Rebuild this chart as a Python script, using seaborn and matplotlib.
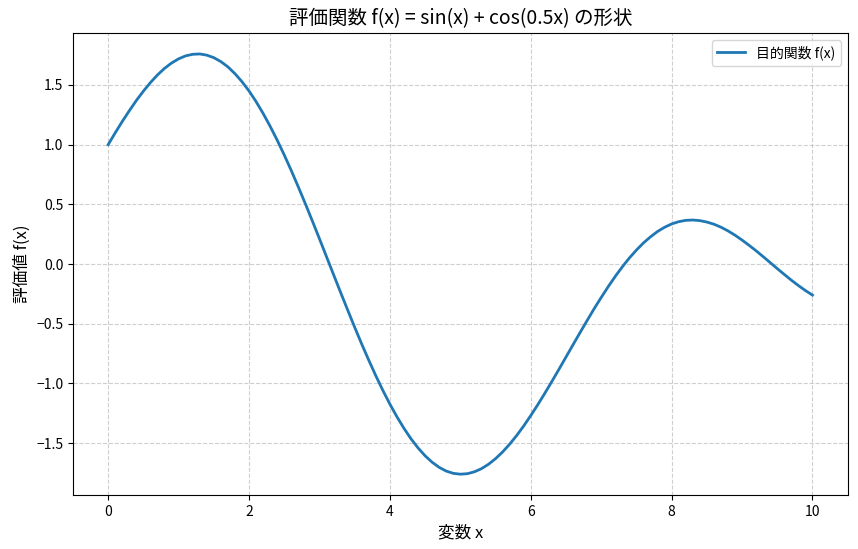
import numpy as np
import pandas as pd
import matplotlib
matplotlib.use('Agg')
import matplotlib.pyplot as plt
import seaborn as sns

# 読み取った値 (x = 0 .. 10, 0.1 刻み)
x_vals = [round(0.1 * i, 1) for i in range(101)]
f_vals = [1.000, 1.099, 1.194, 1.284, 1.370, 1.448, 1.520, 1.584, 1.639, 1.684,
          1.719, 1.744, 1.757, 1.760, 1.750, 1.729, 1.696, 1.652, 1.595, 1.528,
          1.450, 1.361, 1.262, 1.154, 1.038, 0.914, 0.783, 0.646, 0.505, 0.360,
          0.212, 0.062, -0.088, -0.237, -0.384, -0.529, -0.670, -0.805, -0.935, -1.058,
          -1.173, -1.279, -1.376, -1.464, -1.540, -1.606, -1.660, -1.703, -1.734, -1.753,
          -1.760, -1.756, -1.740, -1.714, -1.677, -1.630, -1.574, -1.509, -1.436, -1.356,
          -1.269, -1.178, -1.082, -0.983, -0.882, -0.779, -0.676, -0.574, -0.473, -0.374,
          -0.280, -0.189, -0.103, -0.023, 0.051, 0.117, 0.177, 0.228, 0.273, 0.308,
          0.336, 0.355, 0.366, 0.369, 0.364, 0.352, 0.334, 0.309, 0.278, 0.242,
          0.201, 0.157, 0.111, 0.062, 0.012, -0.038, -0.087, -0.135, -0.180, -0.222,
          -0.260]

df = pd.DataFrame({'x': x_vals, 'f': f_vals})

plt.rcParams['font.family'] = ['Noto Sans CJK JP', 'DejaVu Sans']
plt.rcParams['axes.unicode_minus'] = True

fig, ax = plt.subplots(figsize=(8.58, 5.49), dpi=100)
fig.subplots_adjust(left=0.085, right=0.988, top=0.94, bottom=0.098)

sns.lineplot(data=df, x='x', y='f', ax=ax, color='#1f77b4', linewidth=2,
             label='目的関数 f(x)')

ax.set_title('評価関数 f(x) = sin(x) + cos(0.5x) の形状', fontsize=14)
ax.set_xlabel('変数 x', fontsize=12)
ax.set_ylabel('評価値 f(x)', fontsize=12)
ax.grid(True, linestyle='--', alpha=0.6)
ax.legend(loc='upper right')

plt.savefig('out.png', dpi=100)
